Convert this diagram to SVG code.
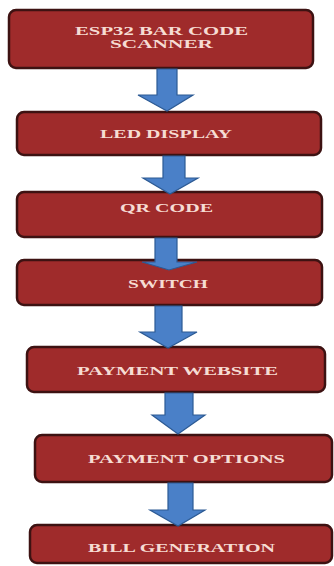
<svg xmlns="http://www.w3.org/2000/svg" width="334" height="566" viewBox="0 0 334 566">
<defs>
<style>
.box{fill:#9f2b2b;stroke:#3d1212;stroke-width:2.5}
.lbl{font-family:"Liberation Serif","Times New Roman",serif;font-weight:bold;font-size:12px;fill:#f6dcd3;text-anchor:middle}
.arr{fill:#4a80c8;stroke:#2c5a94;stroke-width:1.2}
</style>
</defs>
<rect width="334" height="566" fill="#ffffff"/>
<g id="n1"><rect class="box" x="9" y="10" width="304" height="58" rx="7"/>
<text class="lbl" x="161.5" y="35" font-size="11" textLength="173" lengthAdjust="spacingAndGlyphs">ESP32 BAR CODE</text>
<text class="lbl" x="161.5" y="48" font-size="11" textLength="103" lengthAdjust="spacingAndGlyphs">SCANNER</text></g>
<g id="n2"><rect class="box" x="17" y="112" width="304" height="43" rx="7"/>
<text class="lbl" x="166" y="138" textLength="132" lengthAdjust="spacingAndGlyphs">LED DISPLAY</text></g>
<g id="n3"><rect class="box" x="17" y="192" width="305" height="45" rx="7"/>
<text class="lbl" x="166.5" y="212" textLength="93" lengthAdjust="spacingAndGlyphs">QR CODE</text></g>
<g id="n4"><rect class="box" x="17" y="260" width="305" height="45" rx="7"/>
<text class="lbl" x="168" y="288" textLength="80" lengthAdjust="spacingAndGlyphs">SWITCH</text></g>
<g id="n5"><rect class="box" x="27" y="347" width="298" height="45" rx="7"/>
<text class="lbl" x="177.5" y="375" textLength="201" lengthAdjust="spacingAndGlyphs">PAYMENT WEBSITE</text></g>
<g id="n6"><rect class="box" x="35" y="435" width="297" height="47" rx="7"/>
<text class="lbl" x="186.5" y="463" textLength="197" lengthAdjust="spacingAndGlyphs">PAYMENT OPTIONS</text></g>
<g id="n7"><rect class="box" x="30" y="525" width="302" height="38" rx="7"/>
<text class="lbl" x="181.5" y="552" textLength="187" lengthAdjust="spacingAndGlyphs">BILL GENERATION</text></g>
<g id="connectors">
<polygon class="arr" points="157,69 177,69 177,95 193,95 167,111 138,95 157,95"/>
<polygon class="arr" points="163,156 185,156 185,178 198,178 170,194 143,178 163,178"/>
<polygon class="arr" points="155,238 177,238 177,262 197,262 169,270 142,262 155,262"/>
<polygon class="arr" points="155,306 182,306 182,332 197,332 168,348 140,332 155,332"/>
<polygon class="arr" points="165,393 193,393 193,415 205,415 178,434 152,415 165,415"/>
<polygon class="arr" points="168,483 193,483 193,510 205,510 178,526 150,510 168,510"/>
</g>
</svg>
